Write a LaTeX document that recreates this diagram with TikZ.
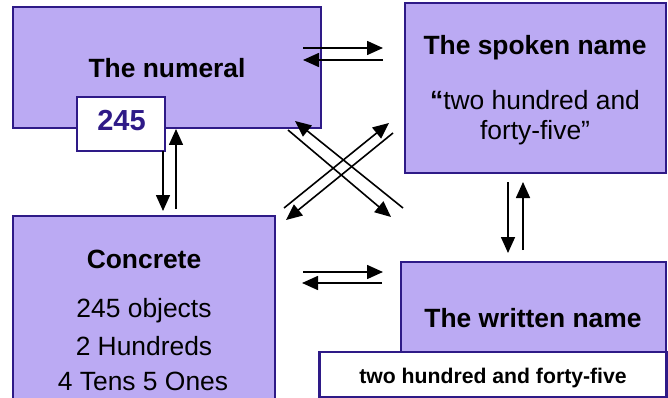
\documentclass[tikz,border=0pt]{standalone}
\usepackage{fontspec}
\setmainfont{Liberation Sans}
\usetikzlibrary{arrows.meta}
\definecolor{boxfill}{RGB}{187,170,243}
\definecolor{boxline}{RGB}{46,26,135}
\tikzset{
  panel/.style={draw=boxline, fill=boxfill, line width=1.6pt},
  tag/.style={draw=boxline, fill=white, line width=2.4pt},
  lbl/.style={anchor=base, inner sep=0pt, font=\fontsize{26.4}{30}\selectfont},
  head/.style={lbl, font=\fontsize{26.4}{30}\selectfont\bfseries},
  link/.style={line width=1.6pt, -{Triangle[length=16pt,width=14pt]}}
}
\begin{document}
\begin{tikzpicture}[x=1pt,y=-1pt]
\useasboundingbox (0,0) rectangle (668,398);
\clip (0,0) rectangle (668,398);

% the four panels
\draw[panel] (13,7) rectangle (321,128);
\draw[panel] (405,3) rectangle (666,173);
\draw[panel] (13,216) rectangle (275,420);
\draw[panel] (401,262) rectangle (666,360);

% white tags
\node[tag, minimum width=88, minimum height=54, inner sep=0pt] (numtag) at (121,124) {};
\node[tag, minimum width=347, minimum height=45, inner sep=0pt] (wrtag) at (493,374.5) {};

% texts
\node[head] (numeral) at (167,78) {The numeral};
\node[head, text=boxline, font=\fontsize{29}{30}\selectfont\bfseries] (numval) at (121.5,131) {245};
\node[head] (spoken) at (535,55) {The spoken name};
\node[lbl] (spokenA) at (535,110) {\textbf{“}two hundred and};
\node[lbl] (spokenB) at (535,140) {forty-five”};
\node[head] (concrete) at (144,268) {Concrete};
\node[lbl] (concA) at (144,317) {245 objects};
\node[lbl] (concB) at (144,355) {2 Hundreds};
\node[lbl] (concC) at (143,390) {4 Tens 5 Ones};
\node[head] (written) at (533,327) {The written name};
\node[head, font=\fontsize{21.2}{24}\selectfont\bfseries] (wrval) at (493,383) {two hundred and forty-five};

% connector end points
\coordinate (ns1) at (303,48);  \coordinate (ns2) at (383,48);
\coordinate (sn1) at (383,60);  \coordinate (sn2) at (303,60);
\coordinate (nc1) at (163,151); \coordinate (nc2) at (163,211);
\coordinate (cn1) at (176,209); \coordinate (cn2) at (176,129);
\coordinate (sw1) at (508,182); \coordinate (sw2) at (508,253);
\coordinate (ws1) at (523,250); \coordinate (ws2) at (523,182);
\coordinate (cw1) at (303,272); \coordinate (cw2) at (383,272);
\coordinate (wc1) at (382,283); \coordinate (wc2) at (302,283);
\coordinate (nw1) at (288,130); \coordinate (nw2) at (391,217);
\coordinate (wn1) at (403,208); \coordinate (wn2) at (295,121);
\coordinate (cs1) at (284,208); \coordinate (cs2) at (389,123);
\coordinate (sc1) at (393,133); \coordinate (sc2) at (286,220);

% connectors
\draw[link] (ns1) -- (ns2);
\draw[link] (sn1) -- (sn2);
\draw[link] (nc1) -- (nc2);
\draw[link] (cn1) -- (cn2);
\draw[link] (sw1) -- (sw2);
\draw[link] (ws1) -- (ws2);
\draw[link] (cw1) -- (cw2);
\draw[link] (wc1) -- (wc2);
\draw[link] (nw1) -- (nw2);
\draw[link] (wn1) -- (wn2);
\draw[link] (cs1) -- (cs2);
\draw[link] (sc1) -- (sc2);
\end{tikzpicture}
\end{document}
